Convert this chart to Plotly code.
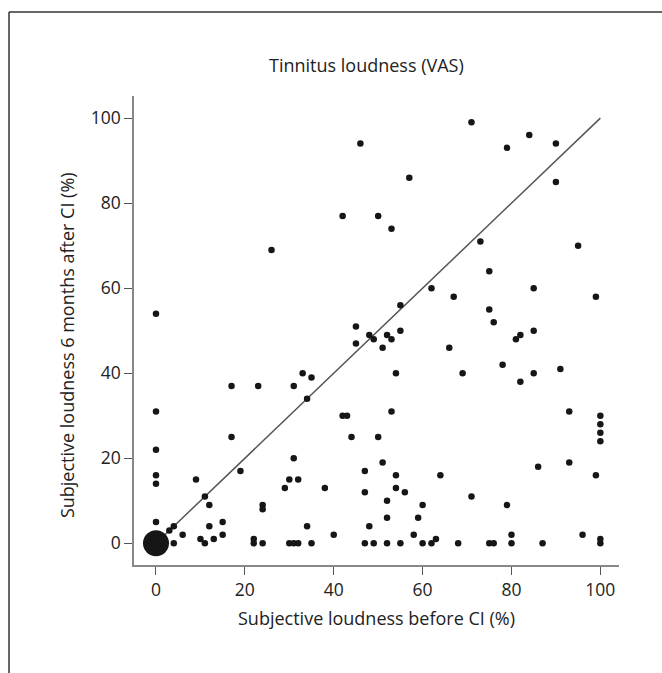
import plotly.graph_objects as go

# Subjective loudness before CI (%) and 6 months after CI (%)
before = [26, 0, 46, 57, 42, 50, 53, 62, 67, 55, 45, 45,
          71, 84, 79, 90, 90, 73, 95, 75, 85, 99, 75, 76,
          48, 49, 52, 53, 55, 51, 66, 81, 82, 85,
          33, 35, 31, 17, 23, 54, 69, 78, 82, 85, 91,
          34, 0, 53, 42, 43, 93, 100, 100, 100, 100,
          17, 44, 50, 0, 31, 51, 93, 86, 19, 47,
          0, 0, 9, 30, 32, 54, 64, 99, 29, 38, 54,
          47, 56, 11, 71, 52, 12, 24, 24, 60, 79,
          52, 59, 0, 15, 12, 4, 34, 48, 3, 6, 15, 40, 58, 80, 96,
          10, 13, 22, 63, 100,
          4, 11, 22, 24, 30, 31, 32, 35, 47, 49, 52, 55, 60, 62, 68, 75, 76, 80, 87, 100]
after = [69, 54, 94, 86, 77, 77, 74, 60, 58, 56, 51, 47,
         99, 96, 93, 94, 85, 71, 70, 64, 60, 58, 55, 52,
         49, 48, 49, 48, 50, 46, 46, 48, 49, 50,
         40, 39, 37, 37, 37, 40, 40, 42, 38, 40, 41,
         34, 31, 31, 30, 30, 31, 30, 28, 26, 24,
         25, 25, 25, 22, 20, 19, 19, 18, 17, 17,
         16, 14, 15, 15, 15, 16, 16, 16, 13, 13, 13,
         12, 12, 11, 11, 10, 9, 9, 8, 9, 9,
         6, 6, 5, 5, 4, 4, 4, 4, 3, 2, 2, 2, 2, 2, 2,
         1, 1, 1, 1, 1,
         0, 0, 0, 0, 0, 0, 0, 0, 0, 0, 0, 0, 0, 0, 0, 0, 0, 0, 0, 0]

# many patients with 0 before and 0 after
cluster_x = [0]
cluster_y = [0]

identity = [0, 100]
ticks = [0, 20, 40, 60, 80, 100]

FONT = "Open Sans"
TXT = "#222222"

fig = go.Figure()
fig.add_trace(go.Scatter(x=identity, y=identity, mode="lines",
                         line=dict(color="#555555", width=1.5),
                         hoverinfo="skip", showlegend=False))
fig.add_trace(go.Scatter(x=before, y=after, mode="markers",
                         marker=dict(size=6.5, color="#161616"),
                         showlegend=False))
fig.add_trace(go.Scatter(x=cluster_x, y=cluster_y, mode="markers",
                         marker=dict(size=26, color="#161616"),
                         showlegend=False))

axis_common = dict(
    tickvals=ticks, ticktext=[str(t) for t in ticks],
    ticks="outside", ticklen=8, tickwidth=1.2, tickcolor="#555555",
    showline=True, linecolor="#888888", linewidth=1.5,
    showgrid=False, zeroline=False,
    tickfont=dict(family=FONT, size=17.5, color=TXT),
)

fig.update_layout(
    width=662, height=673,
    margin=dict(l=134, r=43, t=96, b=108),
    paper_bgcolor="white", plot_bgcolor="white",
    xaxis=dict(range=[-4.95, 104.2], **axis_common),
    yaxis=dict(range=[-5.1, 105.2], **axis_common),
    font=dict(family=FONT, color=TXT),
    annotations=[
        dict(text="Tinnitus loudness (VAS)", xref="paper", yref="paper",
             x=0.48, y=1.066, showarrow=False, xanchor="center", yanchor="middle",
             font=dict(family=FONT, size=18, color=TXT)),
        dict(text="Subjective loudness before CI (%)", xref="paper", yref="paper",
             x=0.499, y=-0.113, showarrow=False, xanchor="center", yanchor="middle",
             font=dict(family=FONT, size=18, color=TXT)),
        dict(text="Subjective loudness 6 months after CI (%)", xref="paper", yref="paper",
             x=-0.138, y=0.469, showarrow=False, xanchor="center", yanchor="middle",
             textangle=-90,
             font=dict(family=FONT, size=18, color=TXT)),
    ],
    shapes=[
        dict(type="line", xref="paper", yref="paper",
             x0=-0.2577, x1=1.0887, y0=1.179, y1=1.179,
             line=dict(color="#333333", width=1.5)),
        dict(type="line", xref="paper", yref="paper",
             x0=-0.2577, x1=-0.2577, y0=1.179, y1=-0.2303,
             line=dict(color="#333333", width=1.5)),
    ],
)

fig.write_html("out.html")
